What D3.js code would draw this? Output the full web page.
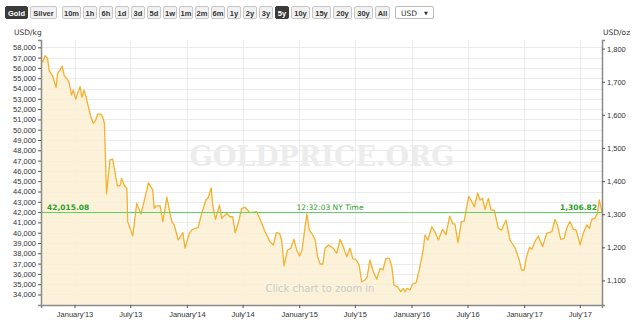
<!DOCTYPE html>
<meta charset="utf-8">
<title>Gold price 5y</title>
<style>
  body { margin: 0; background: #fff; }
  svg { display: block; font-family: "DejaVu Sans", Verdana, sans-serif; }
  .tick text { fill: #333; font-size: 7.5px; }
  .tick line { stroke: #555; }
  .btn rect { fill: #f1f1f1; stroke: #c8c8c8; }
  .btn text { fill: #333; font-size: 7.5px; font-weight: bold; font-family: "Liberation Sans", Arial, sans-serif; }
  .btn.on rect { fill: #3b3b3b; stroke: #3b3b3b; }
  .btn.on text { fill: #fff; }
</style>
<body>
<svg width="640" height="323"></svg>
<script src="https://d3js.org/d3.v7.min.js"></script>
<script>

// toolbar labels
var metals = ["Gold", "Silver"]
var ranges = ["10m", "1h", "6h", "1d", "3d", "5d", "1w", "1m", "2m", "6m", "1y", "2y", "3y", "5y", "10y", "15y", "20y", "30y", "All"]

// gold price, USD per kg
var dates = ["2012-09-14","2012-09-20","2012-09-27","2012-10-05","2012-10-11","2012-10-22","2012-11-02","2012-11-07","2012-11-15","2012-11-22",
  "2012-11-29","2012-12-09","2012-12-15","2012-12-22","2012-12-28","2013-01-05","2013-01-11","2013-01-19","2013-01-25","2013-02-01",
  "2013-02-07","2013-02-15","2013-02-23","2013-03-03","2013-03-11","2013-03-17","2013-03-27","2013-04-03","2013-04-08","2013-04-15",
  "2013-04-26","2013-05-05","2013-05-20","2013-05-29","2013-06-03","2013-06-12","2013-06-20","2013-06-23","2013-07-09","2013-07-22",
  "2013-08-05","2013-08-24","2013-08-29","2013-09-12","2013-09-17","2013-09-23","2013-10-06","2013-10-15","2013-10-28","2013-11-13",
  "2013-11-21","2013-12-04","2013-12-19","2013-12-26","2014-01-09","2014-01-17","2014-01-28","2014-02-07","2014-02-18","2014-03-04",
  "2014-03-12","2014-03-21","2014-03-26","2014-04-04","2014-04-17","2014-04-24","2014-05-11","2014-05-21","2014-05-30","2014-06-07",
  "2014-06-17","2014-06-28","2014-07-09","2014-07-25","2014-08-16","2014-08-27","2014-09-12","2014-09-28","2014-10-09","2014-10-19",
  "2014-10-29","2014-11-05","2014-11-13","2014-11-24","2014-12-05","2014-12-15","2014-12-24","2015-01-02","2015-01-10","2015-01-18",
  "2015-01-26","2015-02-03","2015-02-14","2015-02-22","2015-03-02","2015-03-10","2015-03-19","2015-03-26","2015-04-06","2015-04-22",
  "2015-05-03","2015-05-14","2015-05-24","2015-06-05","2015-06-15","2015-06-24","2015-07-05","2015-07-15","2015-07-23","2015-08-03",
  "2015-08-10","2015-08-19","2015-08-30","2015-09-10","2015-09-21","2015-09-30","2015-10-10","2015-10-21","2015-10-29","2015-11-05",
  "2015-11-16","2015-11-27","2015-12-05","2015-12-11","2015-12-18","2015-12-27","2016-01-05","2016-01-16","2016-01-26","2016-02-07",
  "2016-02-14","2016-02-23","2016-03-07","2016-03-17","2016-03-28","2016-04-11","2016-04-22","2016-05-04","2016-05-14","2016-05-21",
  "2016-05-31","2016-06-11","2016-06-20","2016-06-27","2016-07-05","2016-07-15","2016-07-23","2016-08-03","2016-08-11","2016-08-19",
  "2016-08-27","2016-09-07","2016-09-15","2016-09-26","2016-10-09","2016-10-20","2016-11-03","2016-11-16","2016-12-03","2016-12-16",
  "2016-12-24","2017-01-01","2017-01-09","2017-01-18","2017-01-26","2017-02-05","2017-02-16","2017-03-02","2017-03-15","2017-04-01",
  "2017-04-11","2017-04-19","2017-04-30","2017-05-11","2017-05-21","2017-05-30","2017-06-10","2017-06-19","2017-07-02","2017-07-12",
  "2017-07-23","2017-08-01","2017-08-09","2017-08-19","2017-08-27","2017-09-02","2017-09-11"]
var usdPerKg = [56770,56600,57180,56930,55730,55210,54080,55480,55800,56180,
  55210,54890,54500,53370,53850,52950,53530,54180,53150,53850,
  53200,52230,51260,50620,50940,51520,51520,51200,50620,43760,
  47060,47150,44560,44560,45280,44560,44310,41070,39680,42850,
  41820,44150,44850,44150,42370,42590,42620,41070,43440,41070,
  40750,39290,40000,38490,39940,40260,40430,40520,41880,43180,
  43440,44340,42690,41300,42690,41400,41880,41550,41550,40000,
  40910,42370,42470,41940,42040,41300,40100,39130,38810,40000,
  39940,39290,36770,38320,38490,39360,38320,37740,38320,40100,
  41820,40260,39780,39290,37670,36960,36960,38490,38810,38490,
  38000,39360,38640,37670,38490,37510,37350,36860,35240,35410,
  35730,37350,36210,35480,36540,36380,37510,37510,36700,34920,
  34760,34270,34600,34270,34600,34440,35020,35150,36380,38160,
  39780,39290,40580,40100,39290,40330,39820,41620,40850,40850,
  39030,41080,41110,42300,43530,43010,42520,43830,43180,43340,
  42270,43340,42200,42200,40430,40260,41230,39290,38490,37350,
  36380,36380,37670,38580,38390,39130,39680,38640,39940,40100,
  41300,40750,39360,39460,40580,41070,40330,40260,38810,39940,
  40750,40430,41300,41400,41880,43180,42015.08]

var currentKg = 42015.08
var currentOz = 1306.82
var currentTime = "12:32:03 NY Time"
var ozPerKg = 32.1507

var kgTicks = d3.range(34000, 58001, 1000)
var ozTicks = d3.range(1100, 1801, 100)

var svg = d3.select("svg")
var plotL = 41, plotR = 602, plotT = 40, plotB = 305

var parse = d3.timeParse("%Y-%m-%d")
var data = dates.map(function (d, i) { return { date: parse(d), kg: usdPerKg[i] } })

var x = d3.scaleTime()
  .domain([parse("2012-09-14"), parse("2017-09-11")])
  .range([plotL, plotR])
var y = d3.scaleLinear().domain([32980, 58710]).range([plotB, plotT])
var yOz = d3.scaleLinear().domain(y.domain().map(function (v) { return v / ozPerKg })).range([plotB, plotT])

var xTicks = d3.timeMonth.every(6).range(parse("2013-01-01"), parse("2017-09-01"))

// toolbar
var bx = 5
function button(label, w, on) {
  var g = svg.append("g").attr("class", "btn" + (on ? " on" : "")).attr("transform", "translate(" + bx + ",6)")
  g.append("rect").attr("x", 0.5).attr("y", 0.5).attr("width", w).attr("height", 12).attr("rx", 1.5)
  g.append("text").attr("x", w / 2 + 0.5).attr("y", 9.5).attr("text-anchor", "middle").text(label)
  bx += w + 3
}
metals.forEach(function (m) { button(m, m == "Gold" ? 22 : 26, m == "Gold") })
bx += 3
ranges.forEach(function (r) {
  var w = r.length == 2 ? 13 : (r == "All" ? 14 : 18)
  button(r, w, r == "5y")
})
bx += 3
var usd = svg.append("g").attr("transform", "translate(" + bx + ",6)")
usd.append("rect").attr("x", 0.5).attr("y", 0.5).attr("width", 38).attr("height", 12).attr("rx", 1.5)
  .attr("fill", "#fff").attr("stroke", "#bbb")
usd.append("text").attr("x", 6).attr("y", 9.5).attr("font-size", "7.5px").attr("fill", "#333").text("USD")
usd.append("text").attr("x", 29).attr("y", 9).attr("font-size", "5px").attr("fill", "#333").text("▼")

// grid
svg.append("g").selectAll("line").data(kgTicks).enter().append("line")
  .attr("x1", plotL).attr("x2", plotR)
  .attr("y1", function (d) { return Math.round(y(d)) + 0.5 })
  .attr("y2", function (d) { return Math.round(y(d)) + 0.5 })
  .attr("stroke", "#ececec")
svg.append("g").selectAll("line").data(xTicks).enter().append("line")
  .attr("y1", plotT).attr("y2", plotB)
  .attr("x1", function (d) { return Math.round(x(d)) + 0.5 })
  .attr("x2", function (d) { return Math.round(x(d)) + 0.5 })
  .attr("stroke", "#ececec")

// watermark
svg.append("text").attr("x", 322).attr("y", 166).attr("text-anchor", "middle")
  .attr("font-family", "'DejaVu Serif', 'Liberation Serif', serif").attr("font-weight", "bold")
  .attr("font-size", "27px").attr("fill", "#ececec").text("GOLDPRICE.ORG")

// area + line
var area = d3.area().x(function (d) { return x(d.date) }).y0(plotB).y1(function (d) { return y(d.kg) })
var line = d3.line().x(function (d) { return x(d.date) }).y(function (d) { return y(d.kg) })
svg.append("path").datum(data).attr("d", area).attr("fill", "#fbf0d4").attr("fill-opacity", 0.85)
svg.append("path").datum(data).attr("d", line).attr("fill", "none")
  .attr("stroke", "#f4b12f").attr("stroke-width", 1.3).attr("stroke-linejoin", "round")

svg.append("text").attr("x", 320).attr("y", 292).attr("text-anchor", "middle")
  .attr("font-size", "10px").attr("fill", "#c9c9c9").text("Click chart to zoom in")

// current price line
var cy = Math.round(y(currentKg)) + 0.5
svg.append("line").attr("x1", plotL).attr("x2", plotR).attr("y1", cy).attr("y2", cy)
  .attr("stroke", "#5fd35f").attr("stroke-width", 1.2)
var lab = svg.append("g").attr("font-size", "7.5px").attr("fill", "#2ca02c")
lab.append("text").attr("x", 47).attr("y", cy - 3).attr("font-weight", "bold").text(d3.format(",.2f")(currentKg))
lab.append("text").attr("x", 330).attr("y", cy - 3).attr("text-anchor", "middle").text(currentTime)
lab.append("text").attr("x", 597).attr("y", cy - 3).attr("text-anchor", "end").attr("font-weight", "bold").text(d3.format(",.2f")(currentOz))

// axes
var fmt = d3.format(",")
var gl = svg.append("g").attr("transform", "translate(" + plotL + ",0)")
  .call(d3.axisLeft(y).tickValues(kgTicks).tickFormat(fmt).tickSize(3).tickPadding(2))
var gr = svg.append("g").attr("transform", "translate(" + plotR + ",0)")
  .call(d3.axisRight(yOz).tickValues(ozTicks).tickFormat(fmt).tickSize(3).tickPadding(2))
var gb = svg.append("g").attr("transform", "translate(0," + plotB + ")")
  .call(d3.axisBottom(x).tickValues(xTicks).tickSize(3).tickPadding(4)
    .tickFormat(function (d) { return (d.getMonth() == 0 ? "January" : "July") + "'" + d3.timeFormat("%y")(d) }))
;[gl, gr, gb].forEach(function (g) { g.select(".domain").attr("stroke", "#8a8a8a").attr("stroke-width", 1.5) })

svg.append("text").attr("x", 14).attr("y", 35).attr("font-size", "7.5px").attr("fill", "#333").text("USD/kg")
svg.append("text").attr("x", 603).attr("y", 35).attr("font-size", "7.5px").attr("fill", "#333").text("USD/oz")
</script>
</body>
